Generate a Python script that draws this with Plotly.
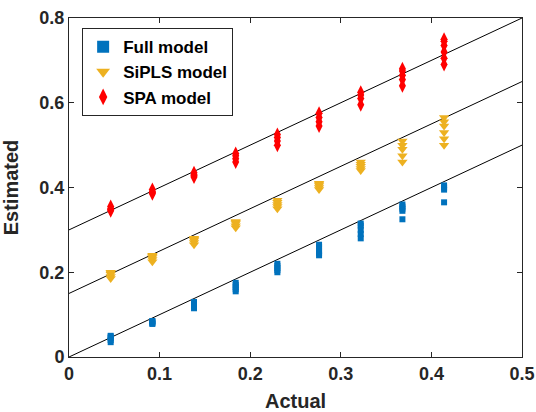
import plotly.graph_objects as go

actual_levels = [0.046, 0.092, 0.138, 0.184, 0.23, 0.276, 0.322, 0.368, 0.414]

full_est = [
    [0.035, 0.04, 0.045, 0.05, 0.048],
    [0.078, 0.082, 0.085, 0.08, 0.084],
    [0.115, 0.12, 0.125, 0.13, 0.122],
    [0.155, 0.16, 0.165, 0.17, 0.175],
    [0.2, 0.205, 0.21, 0.215, 0.22],
    [0.24, 0.245, 0.25, 0.26, 0.265],
    [0.28, 0.29, 0.3, 0.31, 0.315],
    [0.325, 0.345, 0.35, 0.355, 0.36],
    [0.365, 0.395, 0.4, 0.405],
]
siPLS_est = [
    [0.185, 0.19, 0.195, 0.2, 0.198],
    [0.225, 0.23, 0.235, 0.24, 0.238],
    [0.265, 0.27, 0.275, 0.28, 0.278],
    [0.305, 0.31, 0.315, 0.32, 0.318],
    [0.35, 0.355, 0.36, 0.365, 0.37],
    [0.395, 0.4, 0.405, 0.41, 0.408],
    [0.44, 0.445, 0.45, 0.455, 0.46],
    [0.46, 0.475, 0.49, 0.5, 0.51],
    [0.5, 0.515, 0.53, 0.545, 0.555, 0.565],
]
spa_est = [
    [0.345, 0.35, 0.355, 0.348],
    [0.385, 0.39, 0.395, 0.388],
    [0.425, 0.43, 0.435, 0.428],
    [0.46, 0.468, 0.475, 0.48],
    [0.5, 0.51, 0.518, 0.525],
    [0.545, 0.555, 0.565, 0.575],
    [0.595, 0.61, 0.618, 0.625],
    [0.64, 0.655, 0.665, 0.675, 0.68],
    [0.69, 0.705, 0.72, 0.735, 0.745, 0.75],
]

x_ticks = [0, 0.1, 0.2, 0.3, 0.4, 0.5]
x_ticktext = ["0", "0.1", "0.2", "0.3", "0.4", "0.5"]
y_ticks = [0, 0.2, 0.4, 0.6, 0.8]
y_ticktext = ["0", "0.2", "0.4", "0.6", "0.8"]

line_x = [0, 0.5]
line_offsets = [0.0, 0.15, 0.3]

def flatten(groups):
    xs, ys = [], []
    for xv, g in zip(actual_levels, groups):
        for v in g:
            xs.append(xv)
            ys.append(v)
    return xs, ys

fig = go.Figure()
for off in line_offsets:
    fig.add_trace(go.Scatter(x=line_x, y=[v + off for v in line_x], mode="lines",
                             line=dict(color="black", width=1), showlegend=False, hoverinfo="skip"))

series = [
    ("Full model", full_est, "square", "#0072BD", 6),
    ("SiPLS model", siPLS_est, "triangle-down", "#EDB120", 9),
    ("SPA model", spa_est, "diamond-tall", "#FF0000", 10),
]
for name, groups, sym, col, sz in series:
    xs, ys = flatten(groups)
    fig.add_trace(go.Scatter(x=xs, y=ys, mode="markers", name="<b>%s</b>" % name,
                             marker=dict(symbol=sym, color=col, size=sz, line=dict(width=0))))

axis_common = dict(showgrid=False, zeroline=False, ticks="inside", ticklen=5,
                   tickcolor="#262626", linecolor="#262626", linewidth=1, mirror="ticks",
                   showline=True, automargin=False,
                   tickfont=dict(size=18, color="#262626", family="Liberation Sans"))
fig.update_xaxes(range=[0, 0.5], tickvals=x_ticks,
                 ticktext=["<b>%s</b>" % t for t in x_ticktext],
                 title=dict(text="<b>Actual</b>", font=dict(size=20, color="#262626")),
                 **axis_common)
fig.update_yaxes(range=[0, 0.8], tickvals=y_ticks,
                 ticktext=["<b>%s</b>" % t for t in y_ticktext],
                 title=dict(text="<b>Estimated</b>", font=dict(size=20, color="#262626")),
                 **axis_common)
fig.update_layout(
    width=536, height=412,
    margin=dict(l=69, r=14, t=18, b=55),
    paper_bgcolor="white", plot_bgcolor="white",
    font=dict(family="Liberation Sans", color="#262626", size=17),
    legend=dict(x=0.029, y=0.97, xanchor="left", yanchor="top",
                bordercolor="#262626", borderwidth=1, bgcolor="white",
                font=dict(size=17, family="Liberation Sans", color="black"),
                itemsizing="constant", tracegroupgap=0, itemwidth=30),
)
fig.write_html("out.html")
